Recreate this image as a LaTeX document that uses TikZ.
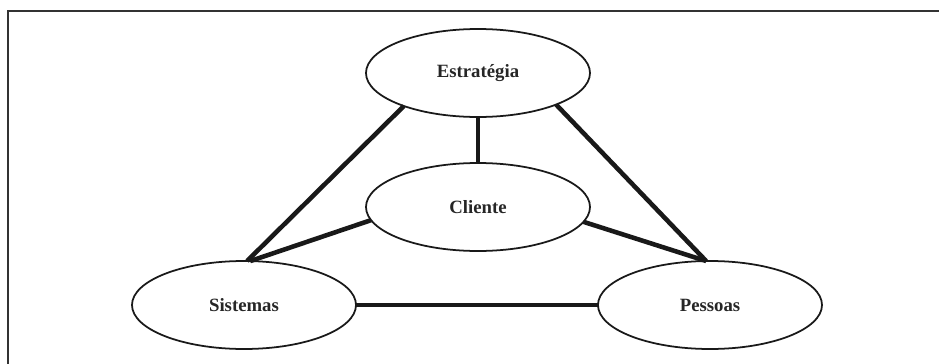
\documentclass[tikz,border=0pt]{standalone}
\usepackage{fontspec}
\setmainfont{Liberation Serif}[BoldFeatures={FakeBold=0}]
\usepackage{tikz}
\usetikzlibrary{shapes.geometric}

\begin{document}
\begin{tikzpicture}
[
x=0.03cm, y=-0.03cm,
ovalnode/.style={ellipse, draw=black!90, line width=1.5pt, minimum width=6.72cm,
  minimum height=2.64cm, inner sep=0, outer sep=0, text=black!85,
  font=\fontsize{16}{19}\selectfont\bfseries},
linkline/.style={line width=3.9pt, draw=black!90}
]
\useasboundingbox (0,0) rectangle (939,364);
\draw[line width=1.6pt, draw=black!80] (8,364) -- (8,11) -- (939,11);

\node[ovalnode] (estrategia) at (478,73)  {Estratégia};
\node[ovalnode] (cliente)    at (478,207) {Cliente};
\node[ovalnode] (sistemas)   at (244,305) {Sistemas};
\node[ovalnode] (pessoas)    at (710,305) {Pessoas};

\draw[linkline] (estrategia.south) -- (cliente.north);
\draw[linkline] (estrategia.204) -- (sistemas.86);
\draw[linkline] (estrategia.-22) -- (pessoas.95);
\draw[linkline] (cliente.187) -- (sistemas.82);
\draw[linkline] (cliente.-8) -- (pessoas.95);
\draw[linkline] (sistemas.east) -- (pessoas.west);
\end{tikzpicture}
\end{document}
